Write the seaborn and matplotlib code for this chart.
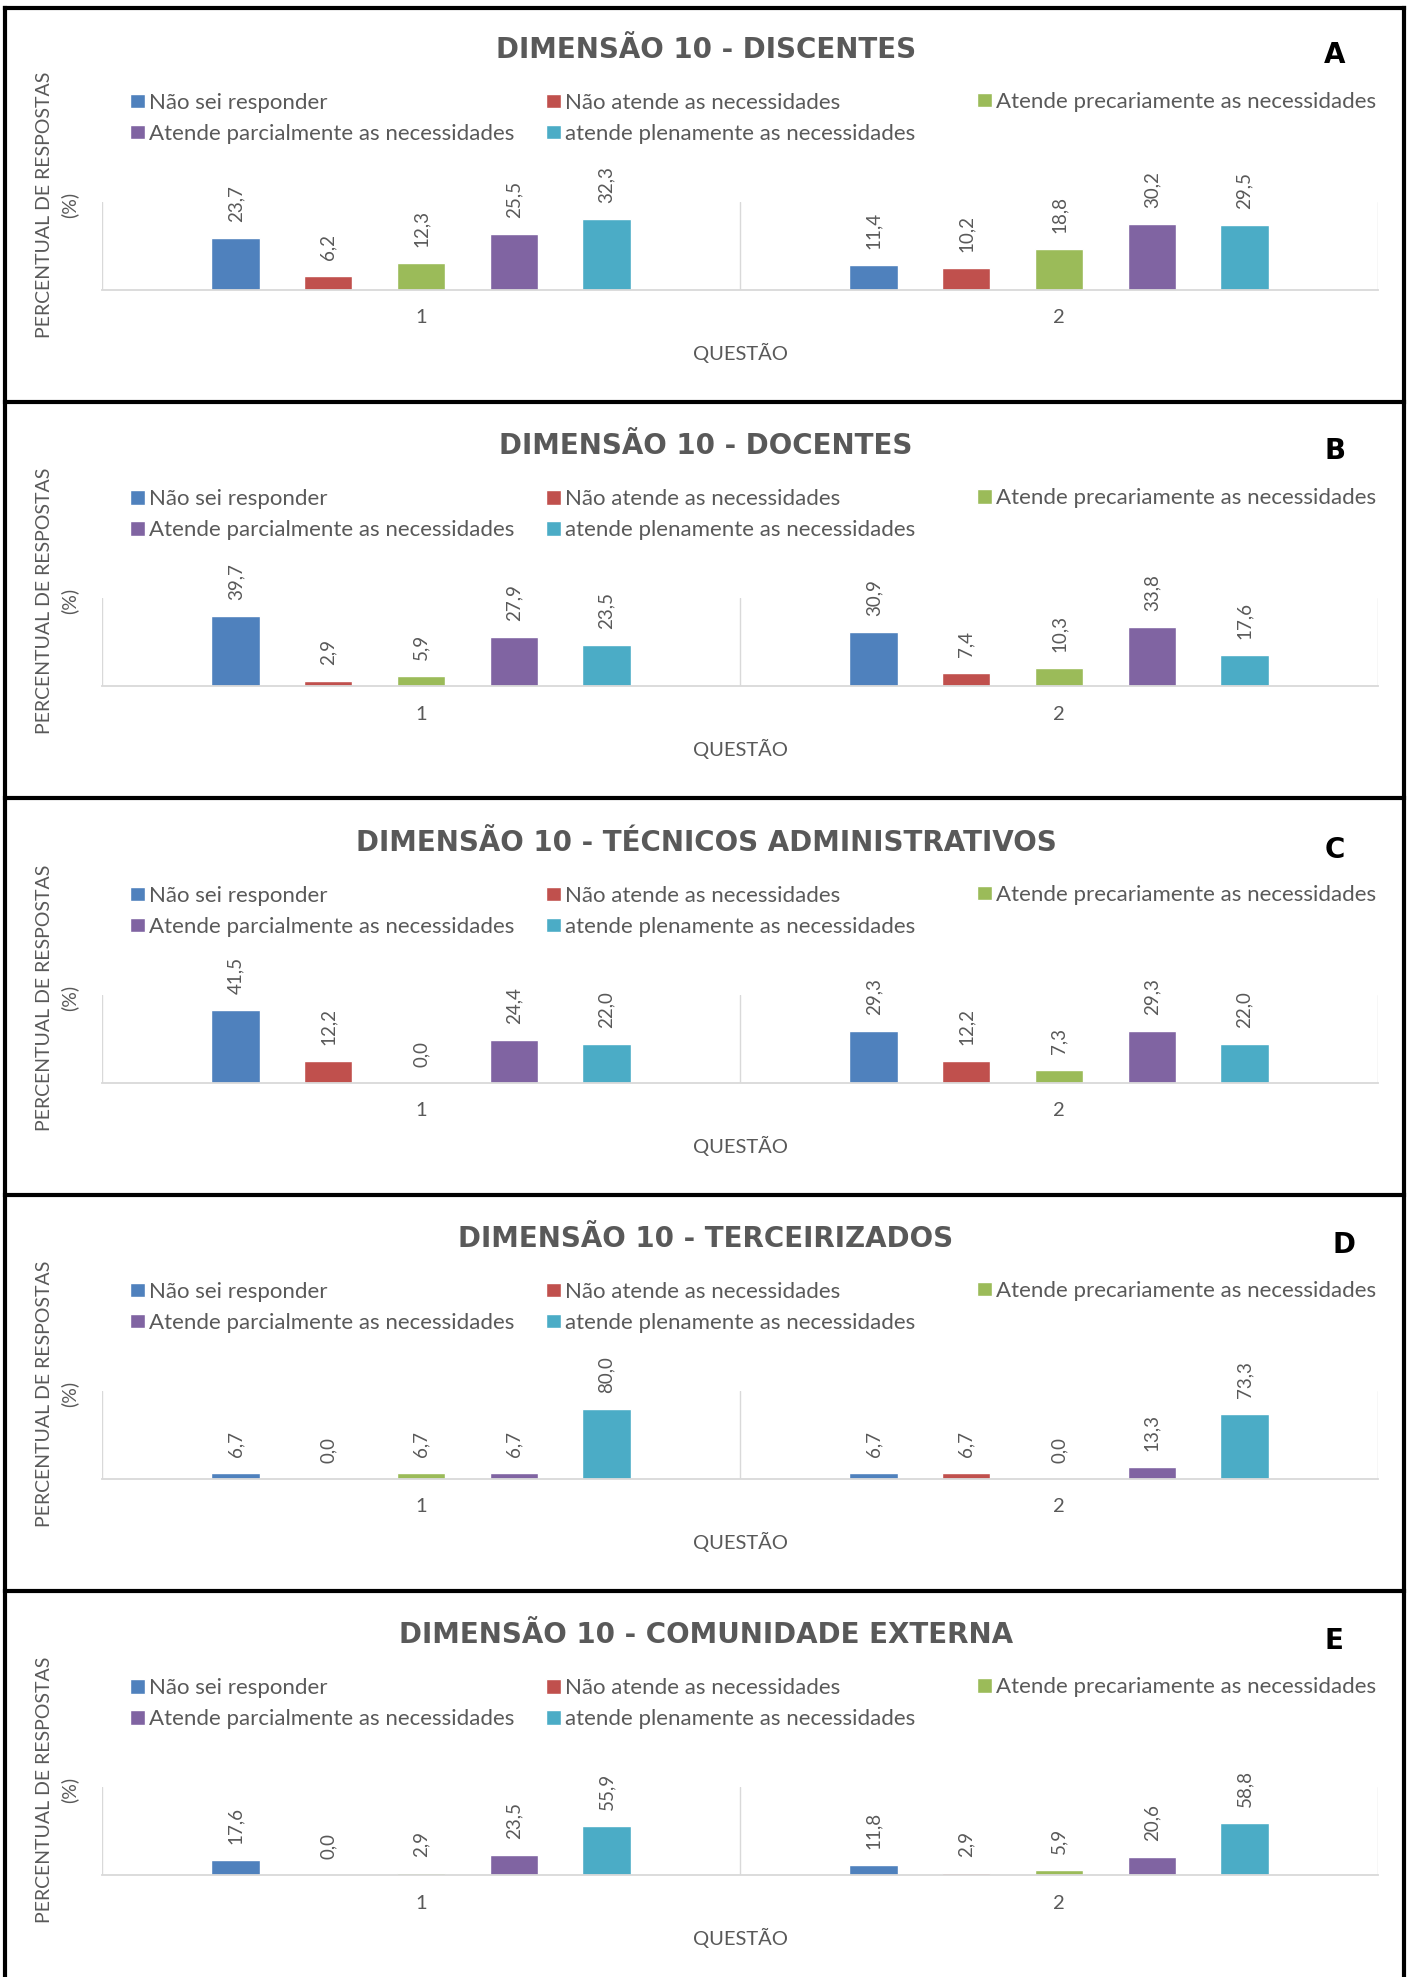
import pandas as pd
import seaborn as sns
import matplotlib.pyplot as plt
from matplotlib.lines import Line2D

# ---------------------------------------------------------------- data
questions = ["1", "2"]
answers = [
    "Não sei responder",
    "Não atende as necessidades",
    "Atende precariamente as necessidades",
    "Atende parcialmente as necessidades",
    "atende plenamente as necessidades",
]
answer_colors = ["#4F81BD", "#C0504D", "#9BBB59", "#8064A2", "#4BACC6"]

titles = [
    "DIMENSÃO 10 - DISCENTES",
    "DIMENSÃO 10 - DOCENTES",
    "DIMENSÃO 10 - TÉCNICOS ADMINISTRATIVOS",
    "DIMENSÃO 10 - TERCEIRIZADOS",
    "DIMENSÃO 10 - COMUNIDADE EXTERNA",
]
panel_letters = ["A", "B", "C", "D", "E"]

discentes_q1 = [23.7, 6.2, 12.3, 25.5, 32.3]
discentes_q2 = [11.4, 10.2, 18.8, 30.2, 29.5]
docentes_q1 = [39.7, 2.9, 5.9, 27.9, 23.5]
docentes_q2 = [30.9, 7.4, 10.3, 33.8, 17.6]
tecnicos_q1 = [41.5, 12.2, 0.0, 24.4, 22.0]
tecnicos_q2 = [29.3, 12.2, 7.3, 29.3, 22.0]
terceirizados_q1 = [6.7, 0.0, 6.7, 6.7, 80.0]
terceirizados_q2 = [6.7, 6.7, 0.0, 13.3, 73.3]
comunidade_q1 = [17.6, 0.0, 2.9, 23.5, 55.9]
comunidade_q2 = [11.8, 2.9, 5.9, 20.6, 58.8]

panel_values = [
    (discentes_q1, discentes_q2),
    (docentes_q1, docentes_q2),
    (tecnicos_q1, tecnicos_q2),
    (terceirizados_q1, terceirizados_q2),
    (comunidade_q1, comunidade_q2),
]
axis_max = [40, 50, 50, 100, 100]

# ---------------------------------------------------------------- style
sns.set_theme(style="white")
plt.rcParams["font.family"] = ["Lato", "DejaVu Sans"]

W, H = 1410, 1977
fig = plt.figure(figsize=(W / 100, H / 100), dpi=100)
fig.patch.set_facecolor("white")

GRAY = "#595959"
LIGHT = "#D9D9D9"
SLOT = 396.3


def fx(x):
    return x / W


def fy(y):
    return 1 - y / H


def label_fmt(v):
    return f"{v:.1f}".replace(".", ",")


letter_pos = [(1335, 55), (1335, 55), (1335, 57), (1344, 56), (1334, 56)]

for i, (title, letter, (q1, q2), ymax) in enumerate(
    zip(titles, panel_letters, panel_values, axis_max)
):
    off = i * SLOT
    df = pd.DataFrame(
        {
            "Questão": [questions[0]] * len(answers) + [questions[1]] * len(answers),
            "Resposta": answers + answers,
            "Percentual": list(q1) + list(q2),
        }
    )

    base, top = 290 + off, 202 + off
    ax = fig.add_axes([fx(102), fy(base), fx(1378) - fx(102), (base - top) / H])
    sns.barplot(
        data=df, x="Questão", y="Percentual", hue="Resposta",
        hue_order=answers, palette=answer_colors, saturation=1,
        width=0.7265, gap=0.48, errorbar=None, ax=ax, legend=True,
    )

    leg = ax.get_legend()
    handles = list(leg.legend_handles)
    labels = [t.get_text() for t in leg.get_texts()]
    leg.remove()

    for cont in ax.containers:
        ax.bar_label(cont, fmt=label_fmt, rotation=90, padding=11.5,
                     fontsize=13.5, color=GRAY)

    ax.set_ylim(0, ymax)
    ax.set_xlim(-0.5, 1.5)
    ax.set_yticks([])
    for s in ("top", "right", "left"):
        ax.spines[s].set_visible(False)
    ax.spines["bottom"].set_color(LIGHT)
    ax.spines["bottom"].set_linewidth(1.3)
    ax.set_xticks([-0.5, 0.5, 1.5], minor=True)
    ax.grid(which="minor", axis="x", color=LIGHT, linewidth=1.0)
    ax.grid(which="major", visible=False)
    ax.tick_params(axis="x", which="both", length=0, pad=14,
                   labelsize=14.5, labelcolor=GRAY)

    ax.set_xlabel("QUESTÃO", fontsize=14.5, color=GRAY)
    ax.xaxis.set_label_coords(0.5, (base - (353 + off)) / (base - top))
    ax.xaxis.label.set_va("center")

    ax.set_ylabel("PERCENTUAL DE RESPOSTAS\n(%)", fontsize=14, color=GRAY,
                  linespacing=1.45, multialignment="center")
    ax.yaxis.set_label_coords((57 - 102) / 1276, (base - (205 + off)) / (base - top))
    ax.yaxis.label.set_va("center")

    fig.text(fx(706), fy(50 + off), title, ha="center", va="center",
             fontsize=20, fontweight="bold", color=GRAY, fontfamily="DejaVu Sans")
    lx, ly = letter_pos[i]
    fig.text(fx(lx), fy(ly + off), letter, ha="center", va="center",
             fontsize=20, fontweight="bold", color="black", fontfamily="DejaVu Sans")

    # legend laid out as a 3-column grid, rows filled left to right
    columns = [([0, 3], 130), ([1, 4], 546), ([2], 977)]
    for idx, x0 in columns:
        yc = 102 + off if len(idx) == 1 else (102 + 135) / 2 + off
        fig.legend(
            [handles[k] for k in idx], [labels[k] for k in idx],
            loc="center left", bbox_to_anchor=(fx(x0), fy(yc)),
            frameon=False, borderaxespad=0, borderpad=0,
            fontsize=16, labelcolor=GRAY, handlelength=0.66,
            handleheight=0.62, handletextpad=0.2, labelspacing=0.5,
        )

# panel frames
frame = dict(transform=fig.transFigure, color="black", linewidth=3, solid_capstyle="projecting")
fig.add_artist(Line2D([fx(5), fx(1404)], [fy(8), fy(8)], **frame))
for k in range(1, 5):
    y = 402 + (k - 1) * SLOT
    fig.add_artist(Line2D([fx(5), fx(1404)], [fy(y), fy(y)], **frame))
fig.add_artist(Line2D([fx(5), fx(5)], [fy(8), fy(H)], **frame))
fig.add_artist(Line2D([fx(1404), fx(1404)], [fy(8), fy(H)], **frame))

fig.savefig("out.png", dpi=100, facecolor="white")
